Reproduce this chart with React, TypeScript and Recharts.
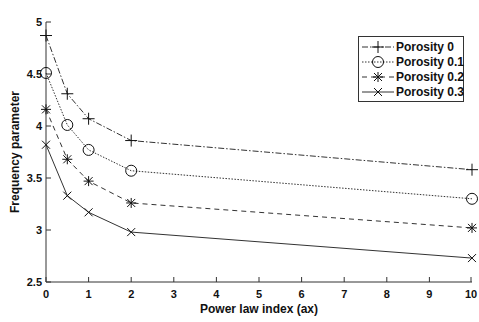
import { LineChart, Line, XAxis, YAxis, Legend, Label } from 'recharts'

const powerIndex = [0, 0.5, 1, 2, 10]
const porosity0 = [4.87, 4.31, 4.07, 3.86, 3.58]
const porosity01 = [4.51, 4.01, 3.77, 3.57, 3.3]
const porosity02 = [4.16, 3.68, 3.47, 3.26, 3.02]
const porosity03 = [3.82, 3.33, 3.17, 2.98, 2.73]
const xTicks = [0, 1, 2, 3, 4, 5, 6, 7, 8, 9, 10]
const yTicks = [2.5, 3, 3.5, 4, 4.5, 5]

const FONT = '"Liberation Sans", Arial, sans-serif'
const INK = '#333'

type Kind = 'plus' | 'circle' | 'star' | 'cross'

const series: { name: string; values: number[]; kind: Kind; dash?: string }[] = [
  { name: 'Porosity 0', values: porosity0, kind: 'plus', dash: '6 2 1.5 2' },
  { name: 'Porosity 0.1', values: porosity01, kind: 'circle', dash: '1.5 1.5' },
  { name: 'Porosity 0.2', values: porosity02, kind: 'star', dash: '5 4' },
  { name: 'Porosity 0.3', values: porosity03, kind: 'cross' },
]

function rows(values: number[]) {
  return powerIndex.map((x, i) => ({ x, y: values[i] }))
}

function Marker({ cx, cy, kind }: { cx: number; cy: number; kind: Kind }) {
  const s = { stroke: '#111', strokeWidth: 1, fill: 'none' }
  if (kind === 'plus')
    return <path d={`M${cx - 6} ${cy}H${cx + 6}M${cx} ${cy - 6}V${cy + 6}`} {...s} />
  if (kind === 'circle') return <circle cx={cx} cy={cy} r={5.5} {...s} />
  const d = 4
  const x = `M${cx - d} ${cy - d}L${cx + d} ${cy + d}M${cx - d} ${cy + d}L${cx + d} ${cy - d}`
  if (kind === 'cross') return <path d={x} {...s} />
  return <path d={`${x}M${cx - 5} ${cy}H${cx + 5}M${cx} ${cy - 5}V${cy + 5}`} {...s} />
}

const tickText = { fontFamily: FONT, fontSize: 11, fontWeight: 'bold', fill: '#111' }

function BottomTick({ x, y, payload }: any) {
  return (
    <g>
      <line x1={x} y1={y} x2={x} y2={y - 5} stroke={INK} />
      <text x={x} y={y + 16} textAnchor="middle" {...tickText}>{payload.value}</text>
    </g>
  )
}

function TopTick({ x, y }: any) {
  return <line x1={x} y1={y} x2={x} y2={y + 5} stroke={INK} />
}

function LeftTick({ x, y, payload }: any) {
  return (
    <g>
      <line x1={x} y1={y} x2={x + 5} y2={y} stroke={INK} />
      <text x={x - 4} y={y + 4} textAnchor="end" {...tickText}>{payload.value}</text>
    </g>
  )
}

function RightTick({ x, y }: any) {
  return <line x1={x} y1={y} x2={x - 5} y2={y} stroke={INK} />
}

function LegendBox() {
  return (
    <div style={{ border: '1px solid #333', background: '#fff', width: 104, padding: '2px 0', boxSizing: 'content-box' }}>
      {series.map(s => (
        <div key={s.name} style={{ display: 'flex', alignItems: 'center', height: 15, whiteSpace: 'nowrap' }}>
          <svg width={34} height={14} style={{ marginLeft: 2, flex: 'none' }}>
            <line x1={1} y1={7} x2={33} y2={7} stroke="#333" strokeDasharray={s.dash} />
            <Marker cx={17} cy={7} kind={s.kind} />
          </svg>
          <span style={{ fontFamily: FONT, fontSize: 12, fontWeight: 'bold', color: '#111', marginLeft: 1, whiteSpace: 'nowrap' }}>{s.name}</span>
        </div>
      ))}
    </div>
  )
}

export default function App() {
  return (
    <div style={{ position: 'absolute', left: 0, top: 0, background: '#fff' }}>
      <LineChart width={479} height={322} margin={{ top: 22, right: 7, bottom: 0, left: 0 }}>
        <XAxis
          dataKey="x"
          type="number"
          domain={[0, 10]}
          ticks={xTicks}
          height={40}
          stroke={INK}
          tickSize={0}
          tickMargin={0}
          tick={<BottomTick />}
        >
          <Label value="Power law index (ax)" position="insideBottom" offset={9}
            style={{ fontFamily: FONT, fontSize: 12, fontWeight: 'bold', fill: '#111' }} />
        </XAxis>
        <XAxis
          xAxisId="top"
          orientation="top"
          dataKey="x"
          type="number"
          domain={[0, 10]}
          ticks={xTicks}
          height={0}
          stroke={INK}
          tickSize={0}
          tickMargin={0}
          tick={<TopTick />}
        >
          <Label value="Uneven" position="top" offset={5}
            style={{ fontFamily: FONT, fontSize: 12, fontWeight: 'bold', fill: '#111' }} />
        </XAxis>
        <YAxis
          type="number"
          domain={[2.5, 5]}
          ticks={yTicks}
          width={46}
          stroke={INK}
          tickSize={0}
          tickMargin={0}
          tick={<LeftTick />}
          label={{
            content: () => (
              <text x={0} y={0} transform="translate(19 152) rotate(-90)" textAnchor="middle"
                style={{ fontFamily: FONT, fontSize: 12, fontWeight: 'bold', fill: '#111' }}>
                Frequency parameter
              </text>
            ),
          }}
        />
        <YAxis
          yAxisId="right"
          orientation="right"
          type="number"
          domain={[2.5, 5]}
          ticks={yTicks}
          width={0}
          stroke={INK}
          tickSize={0}
          tickMargin={0}
          tick={<RightTick />}
        />
        <Legend
          layout="vertical"
          align="center"
          verticalAlign="middle"
          content={() => <LegendBox />}
          wrapperStyle={{ position: 'absolute', left: 358, top: 36, width: 108 }}
        />
        {series.map(s => (
          <Line
            key={s.name}
            name={s.name}
            data={rows(s.values)}
            dataKey="y"
            stroke="#333"
            strokeWidth={1}
            strokeDasharray={s.dash}
            isAnimationActive={false}
            dot={(p: any) => <Marker key={p.index} cx={p.cx} cy={p.cy} kind={s.kind} />}
            activeDot={false}
          />
        ))}
      </LineChart>
    </div>
  )
}
